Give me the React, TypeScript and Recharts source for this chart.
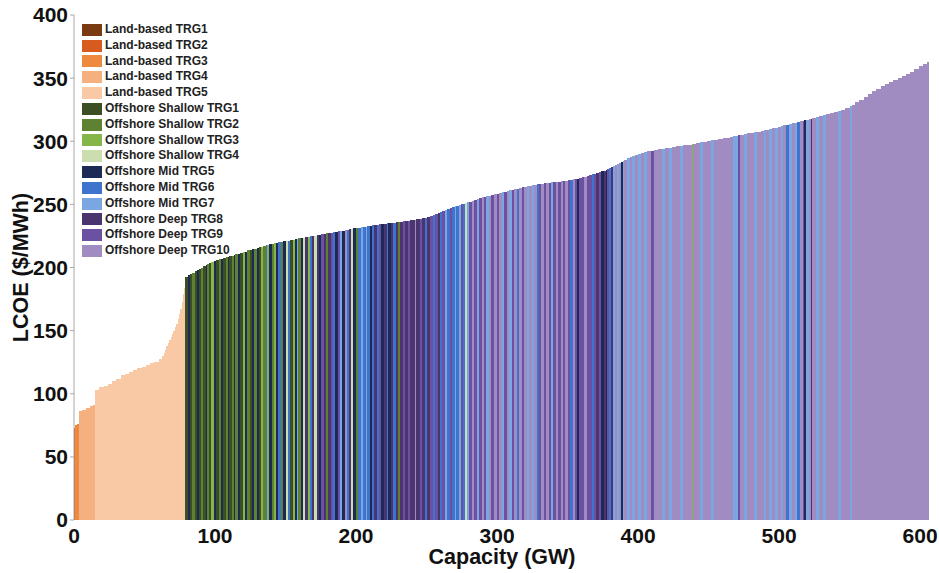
import { AreaChart, Area, XAxis, YAxis, Legend } from 'recharts';

// supply curve classes (legend order)
const classKeys = ['L1', 'L2', 'L3', 'L4', 'L5', 'S1', 'S2', 'S3', 'S4', 'M5', 'M6', 'M7', 'D8', 'D9', 'D10'];
const classNames = [
  'Land-based TRG1', 'Land-based TRG2', 'Land-based TRG3', 'Land-based TRG4', 'Land-based TRG5',
  'Offshore Shallow TRG1', 'Offshore Shallow TRG2', 'Offshore Shallow TRG3', 'Offshore Shallow TRG4',
  'Offshore Mid TRG5', 'Offshore Mid TRG6', 'Offshore Mid TRG7',
  'Offshore Deep TRG8', 'Offshore Deep TRG9', 'Offshore Deep TRG10',
];
const classColors = [
  '#7a3a12', '#d85a1e', '#ee8a40', '#f4b07e', '#f8c9a4',
  '#3c4f24', '#5e8232', '#86b54a', '#ccddb0',
  '#1c2a55', '#3f74ce', '#7aa6e2',
  '#4a356e', '#6c50a2', '#a08cc0',
];

const xTicks = [0, 100, 200, 300, 400, 500, 600];
const yTicks = [0, 50, 100, 150, 200, 250, 300, 350, 400];

// [capacity GW, LCOE $/MWh, class]
type Seg = [number, number, string];

const landSegments: Seg[] = [
  [1, 73, 'L2'], [1.2, 75, 'L3'], [1.3, 76, 'L3'],
  [2.5, 86, 'L4'], [2.5, 87.5, 'L4'], [2.5, 89, 'L4'], [2.5, 90, 'L4'], [1.5, 91, 'L4'],
  [3, 103, 'L5'], [3, 105, 'L5'], [3, 106.5, 'L5'], [3, 108, 'L5'], [3, 110, 'L5'], [3, 112, 'L5'],
  [3, 114.5, 'L5'], [3, 116, 'L5'], [3, 117.5, 'L5'], [3, 119, 'L5'], [3, 120.5, 'L5'], [3, 121.5, 'L5'],
  [3, 122.5, 'L5'], [3, 124, 'L5'], [3, 125.5, 'L5'], [2.5, 127.5, 'L5'],
  [1, 130, 'L5'], [1, 132.5, 'L5'], [1, 135, 'L5'], [1, 137.5, 'L5'], [1, 140, 'L5'], [1, 142.5, 'L5'],
  [1, 145, 'L5'], [1, 147.5, 'L5'], [1, 150, 'L5'], [1, 152.5, 'L5'], [1, 155.5, 'L5'], [1, 159, 'L5'],
  [1, 163, 'L5'], [1, 167.5, 'L5'], [1, 173, 'L5'], [0.5, 179, 'L5'], [0.5, 184, 'L5'], [0.5, 189, 'L5'],
];

const shallowSegments: Seg[] = [
  [2, 192.5, 'S1'], [1, 194, 'M5'], [2, 195, 'S1'], [1.5, 196, 'S2'], [2, 197, 'S1'], [1, 198, 'M5'],
  [1.5, 199, 'S1'], [1.5, 200, 'S2'], [2, 201, 'S1'], [1, 202, 'M5'], [1.5, 203, 'S2'], [1.5, 203.5, 'S1'],
  [2, 204, 'S3'], [1.5, 205, 'M5'], [2, 206, 'S1'], [1, 206.5, 'S2'], [1.5, 207, 'M5'], [2, 207.5, 'S1'],
  [1.5, 208, 'S2'], [1, 208.5, 'M5'], [2, 209, 'S1'], [1.5, 209.5, 'S2'], [1, 210, 'M5'], [2, 210.5, 'S2'],
  [1.5, 211, 'M5'], [2, 211.5, 'S1'], [1.5, 212, 'S3'], [1.5, 212.5, 'M5'], [2, 213.5, 'S2'],
  [1.5, 214, 'S1'], [1, 214.5, 'M5'], [2, 215, 'S2'], [1.5, 215.5, 'M5'], [1.5, 216, 'S1'], [1.5, 216.5, 'S3'],
  [2, 217, 'S2'], [1, 217.5, 'M6'], [1.5, 218, 'S3'], [2, 218.5, 'M5'], [1.5, 219, 'S2'], [1, 219.3, 'S3'],
  [2, 219.6, 'M5'], [1.5, 220, 'M6'], [1.5, 220.3, 'S2'], [2, 220.6, 'M5'], [1.5, 221, 'S4'], [1.5, 221.3, 'M6'],
  [2, 221.6, 'S1'], [1.5, 222, 'S3'], [1.5, 222.3, 'M5'], [1, 222.6, 'M7'], [2, 223, 'S2'], [1.5, 223.3, 'M5'],
  [1.5, 223.6, 'S4'], [2, 224, 'D8'], [1.5, 224.3, 'S3'], [1.5, 224.6, 'M6'], [1.5, 225, 'D8'], [1.5, 225.3, 'S4'],
];

const midSegments: Seg[] = [
  [2, 225.5, 'D8'], [1.5, 226, 'M5'], [2, 226.3, 'D9'], [1.5, 226.6, 'D8'], [1, 227, 'S2'], [2, 227.3, 'D8'],
  [1.5, 227.6, 'D9'], [1.5, 228, 'M6'], [2, 228.3, 'M5'], [1.5, 228.6, 'D9'], [1.5, 229, 'M7'], [2, 229.3, 'M5'],
  [1.5, 229.6, 'D10'], [1.5, 230, 'M6'], [1.5, 230.3, 'D8'], [1.5, 230.6, 'S4'], [2, 231, 'M5'], [1.5, 231.2, 'S2'],
  [2, 231.5, 'M6'], [1.5, 231.8, 'M7'], [2, 232, 'M6'], [1, 232.3, 'M7'], [2, 232.6, 'M6'], [1.5, 233, 'M5'],
  [1.5, 233.3, 'M6'], [2, 233.6, 'D8'], [1.5, 234, 'M6'], [1.5, 234.3, 'D9'], [2, 234.6, 'M5'],
  [2, 234.8, 'D8'], [1, 235, 'M6'], [2, 235.2, 'M5'], [1.5, 235.4, 'D8'], [1.5, 235.6, 'M6'], [2, 235.8, 'D8'],
  [1, 236, 'S2'], [2, 236.2, 'D8'], [1.5, 236.5, 'D9'], [2.5, 236.8, 'D8'], [1.5, 237.2, 'D9'], [3, 237.6, 'D8'],
  [1, 238, 'D10'], [2.5, 238.4, 'D8'], [1.5, 238.8, 'D9'], [2.5, 239.2, 'D8'], [1.5, 239.6, 'M6'], [2, 240.2, 'D8'],
  [2, 240.8, 'D9'], [1.5, 241.4, 'M6'], [2, 242, 'D9'],
  [1.5, 243, 'D8'], [1.5, 244, 'M6'], [2, 245, 'D9'], [1.5, 245.8, 'M7'], [2, 246.5, 'M6'], [1.5, 247.2, 'D9'],
  [2, 248, 'M6'], [1, 248.5, 'M7'], [2, 249, 'M6'], [1.5, 249.5, 'M7'], [1.5, 250, 'D9'], [1.5, 250.5, 'M6'],
  [1, 251, 'S4'], [1.5, 251.5, 'M7'], [2, 252.2, 'D9'], [1.5, 253, 'D10'], [2, 253.7, 'D9'], [1.5, 254.3, 'M7'],
  [2, 255, 'D9'], [1.5, 255.5, 'D10'], [2, 256, 'D9'], [1.5, 256.5, 'M7'], [2, 257, 'D10'], [2, 257.5, 'D9'],
  [2, 258, 'D10'],
];

const deepSegments: Seg[] = [
  [1.5, 258.5, 'D9'], [2, 259, 'D10'], [1.5, 259.5, 'M7'], [2, 260, 'D9'], [1.5, 260.5, 'D10'], [2, 261, 'M7'],
  [1.5, 261.5, 'D9'], [2, 262, 'D10'], [1.5, 262.5, 'M6'], [2, 263, 'D10'], [1.5, 263.4, 'D9'], [2, 263.8, 'D10'],
  [1.5, 264.2, 'M7'], [2, 264.6, 'D10'], [1.5, 265, 'M7'], [2, 265.4, 'D10'], [1.5, 265.8, 'M6'], [2, 266.2, 'D9'],
  [1.5, 266.5, 'D10'], [2, 266.8, 'D9'], [1.5, 267, 'D10'], [2, 267.2, 'D9'], [1.5, 267.4, 'M7'], [2, 267.6, 'D9'],
  [1.5, 267.8, 'D10'], [1.5, 268, 'D9'],
  [2, 268.3, 'D10'], [1.5, 268.6, 'D9'], [2, 268.9, 'D10'], [1.5, 269.2, 'D9'], [1.5, 269.5, 'M6'], [2, 269.8, 'D10'],
  [1.5, 270, 'D9'], [1, 270.3, 'M5'], [2, 270.8, 'D9'], [2, 271.5, 'D9'], [1.5, 272, 'D10'], [2, 272.6, 'D9'],
  [1.5, 273.2, 'D9'], [1.5, 273.8, 'M6'], [2, 274.4, 'D9'], [1.5, 275, 'D8'], [2, 275.6, 'D9'], [1.5, 276.2, 'M5'],
  [1.5, 276.8, 'D8'], [1, 277.4, 'M5'], [1.5, 278, 'D9'], [1, 278.8, 'M6'], [1.5, 279.6, 'D8'], [1.5, 280.4, 'M7'],
  [1.5, 281.2, 'D10'], [1.5, 282, 'M7'], [1.5, 282.8, 'D10'], [1, 283.5, 'M5'], [1, 284, 'M7'],
];

const deepTailSegments: Seg[] = [
  [2, 285, 'D10'], [2, 286.5, 'M7'], [2, 287.5, 'D10'], [2, 288.5, 'M7'], [2, 289.3, 'D10'], [2, 290, 'M7'],
  [2, 290.7, 'D10'], [2, 291.3, 'M7'], [3, 292, 'D10'], [2, 292.6, 'D9'], [3, 293.2, 'D10'], [3, 293.8, 'D10'],
  [2, 294.2, 'M7'], [3, 294.6, 'D10'], [2, 295, 'M7'], [3, 295.5, 'D10'], [3, 296, 'D10'], [2, 296.4, 'M7'],
  [3, 296.8, 'D10'], [3, 297.4, 'D10'], [1, 297.9, 'S3'], [2, 298.2, 'D10'], [3, 298.6, 'D10'], [2, 299.1, 'M7'],
  [3, 299.6, 'D10'], [3, 300.2, 'D10'], [2, 300.7, 'M7'], [3, 301.2, 'D10'], [3, 301.8, 'D10'], [2, 302.3, 'D10'],
  [3, 302.9, 'D10'],
  [2, 303.5, 'D10'], [2, 304, 'M7'], [2, 304.4, 'M7'], [1, 304.7, 'D9'], [0.6, 305, 'M5'], [2.4, 305.3, 'D10'],
  [2, 305.8, 'M7'], [3, 306.3, 'D10'], [2, 306.8, 'D10'], [2, 307.2, 'M7'], [3, 307.7, 'D10'], [2, 308.2, 'D10'],
  [2, 308.7, 'M7'], [2, 309.2, 'D10'], [2, 309.7, 'M7'], [2, 310.2, 'D10'], [2, 310.8, 'M7'], [2, 311.3, 'D10'],
  [2, 311.9, 'M7'], [2, 312.5, 'D10'], [2, 313, 'M6'], [2, 313.6, 'M7'], [2, 314.2, 'D10'], [2, 314.7, 'M7'],
  [2, 315.2, 'M6'], [2, 315.8, 'D10'], [1, 316.2, 'D9'], [1, 316.5, 'M5'], [2, 316.9, 'M7'], [1.5, 317.4, 'D10'],
  [1, 317.8, 'D8'], [2.5, 318.3, 'D10'], [2, 319, 'M7'], [3, 319.8, 'D10'], [2, 320.5, 'M7'], [3, 321.2, 'D10'],
  [3, 322, 'D10'],
  [3, 322.8, 'D10'], [2, 323.8, 'M7'], [3, 325, 'D10'], [3, 326.5, 'D10'], [1.5, 327.8, 'M7'], [2.5, 329, 'D10'],
  [3, 330.8, 'D10'], [3, 333, 'D10'], [3, 335.3, 'D10'], [3, 337.7, 'D10'], [3, 339.8, 'D10'], [3, 341.7, 'D10'],
  [3, 343.5, 'D10'], [3, 345.1, 'D10'], [3, 346.7, 'D10'], [3, 348.3, 'D10'], [3, 349.8, 'D10'], [3, 351.5, 'D10'],
  [3, 353.3, 'D10'], [3, 355.2, 'D10'], [3, 357.3, 'D10'], [3, 359.4, 'D10'], [3, 361.5, 'D10'], [1.5, 363, 'D10'],
];

const segments = [...landSegments, ...shallowSegments, ...midSegments, ...deepSegments, ...deepTailSegments];

// two rows per block (left and right edge) so each class draws as flat-topped rectangles
const buildRows = () => {
  const rows: Record<string, number | null>[] = [];
  let start = 0;
  segments.forEach(([gw, lcoe, cls]) => {
    const left: Record<string, number | null> = { gw: start };
    const right: Record<string, number | null> = { gw: start + gw };
    classKeys.forEach((k) => {
      left[k] = k === cls ? lcoe : null;
      right[k] = k === cls ? lcoe : null;
    });
    rows.push(left, right);
    start += gw;
  });
  return rows;
};

const data = buildRows();
const font = 'Arial, "Liberation Sans", sans-serif';

const YTitle = (props: any) => {
  const { x, y, height } = props.viewBox;
  const cx = x + 21;
  const cy = y + height / 2;
  return (
    <text x={cx} y={cy} transform={`rotate(-90 ${cx} ${cy})`} textAnchor="middle" dominantBaseline="central"
      fontFamily={font} fontWeight="bold" fontSize={21.5} fill="#111">
      LCOE ($/MWh)
    </text>
  );
};

const XTitle = (props: any) => {
  const { x, y, width } = props.viewBox;
  return (
    <text x={x + width / 2} y={y + 37} textAnchor="middle" dominantBaseline="central"
      fontFamily={font} fontWeight="bold" fontSize={21.5} fill="#111">
      Capacity (GW)
    </text>
  );
};

const LegendBox = () => (
  <div style={{ fontFamily: font, fontWeight: 'bold', fontSize: 12, color: '#222' }}>
    {classNames.map((name, i) => (
      <div key={name} style={{ display: 'flex', alignItems: 'center', height: 15.8 }}>
        <span style={{ width: 20, height: 12, background: classColors[i], marginRight: 3, display: 'inline-block' }} />
        <span style={{ lineHeight: '15.8px', whiteSpace: 'nowrap' }}>{name}</span>
      </div>
    ))}
  </div>
);

export default function App() {
  return (
    <div style={{ position: 'absolute', left: 0, top: 0, background: '#fff' }}>
      <style>{'.recharts-area-area { shape-rendering: crispEdges; }'}</style>
      <AreaChart width={939} height={573} data={data} margin={{ top: 15, right: 9, bottom: 4, left: 0 }}>
        <XAxis
          type="number"
          dataKey="gw"
          domain={[0, 607]}
          ticks={xTicks}
          interval={0}
          axisLine={false}
          tickLine={false}
          tickSize={0}
          tickMargin={8}
          height={49}
          tick={{ fontFamily: font, fontWeight: 'bold', fontSize: 21, fill: '#111' }}
          label={<XTitle />}
        />
        <YAxis
          type="number"
          domain={[0, 400]}
          ticks={yTicks}
          interval={0}
          width={74}
          axisLine={{ stroke: '#a8a8a8' }}
          tickLine={{ stroke: '#a8a8a8' }}
          tickSize={4}
          tickMargin={2}
          tick={{ fontFamily: font, fontWeight: 'bold', fontSize: 21, fill: '#111' }}
          label={<YTitle />}
        />
        {classKeys.map((k, i) => (
          <Area
            key={k}
            type="linear"
            dataKey={k}
            name={classNames[i]}
            fill={classColors[i]}
            fillOpacity={1}
            stroke="none"
            connectNulls={false}
            dot={false}
            activeDot={false}
            isAnimationActive={false}
          />
        ))}
        <Legend
          layout="vertical"
          align="center"
          verticalAlign="middle"
          content={<LegendBox />}
          wrapperStyle={{ left: 82, top: 22, width: 200 }}
        />
      </AreaChart>
    </div>
  );
}
